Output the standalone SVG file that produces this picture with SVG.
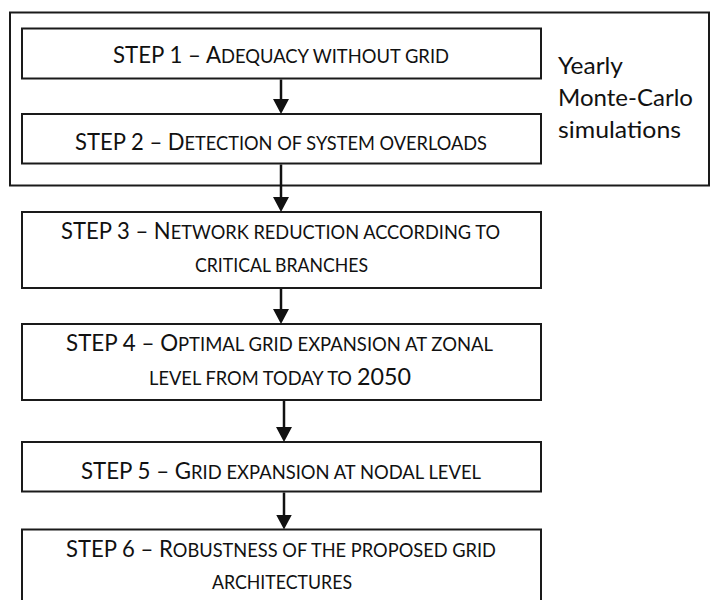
<svg xmlns="http://www.w3.org/2000/svg" width="710" height="600" viewBox="0 0 710 600">
<defs>
<style>
.box{fill:#fff;stroke:#1a1a1a;stroke-width:2}
.t{font-family:Lato,"Open Sans","Liberation Sans",sans-serif;font-size:23px;fill:#111}
.sc{font-size:19px}
.conn{stroke:#111;stroke-width:2.5;fill:none;marker-end:url(#ah)}
</style>
<marker id="ah" markerUnits="userSpaceOnUse" markerWidth="15" markerHeight="16" viewBox="0 0 15 16" refX="11" refY="8" orient="auto">
<path d="M0,0 L15,8 L0,16 Z" fill="#111"/>
</marker>
</defs>
<rect width="710" height="600" fill="#fff"/>
<g id="group-montecarlo">
<rect class="box" x="10" y="12.5" width="699" height="173"/>
<text class="t" x="558" y="74" textLength="65" lengthAdjust="spacingAndGlyphs">Yearly</text>
<text class="t" x="558" y="106" textLength="135" lengthAdjust="spacingAndGlyphs">Monte-Carlo</text>
<text class="t" x="558" y="138" textLength="123" lengthAdjust="spacingAndGlyphs">simulations</text>
</g>
<g id="step1">
<rect class="box" x="22" y="28.5" width="519" height="50"/>
<text class="t" x="113" y="63" textLength="336" lengthAdjust="spacingAndGlyphs">STEP 1 – A<tspan class="sc">DEQUACY WITHOUT GRID</tspan></text>
</g>
<g id="step2">
<rect class="box" x="22" y="114" width="519" height="49.5"/>
<text class="t" x="75" y="150" textLength="412" lengthAdjust="spacingAndGlyphs">STEP 2 – D<tspan class="sc">ETECTION OF SYSTEM OVERLOADS</tspan></text>
</g>
<g id="step3">
<rect class="box" x="22" y="212" width="519" height="76"/>
<text class="t" x="61" y="239" textLength="439" lengthAdjust="spacingAndGlyphs">STEP 3 – N<tspan class="sc">ETWORK REDUCTION ACCORDING TO</tspan></text>
<text class="t sc" x="195" y="272" textLength="173" lengthAdjust="spacingAndGlyphs">CRITICAL BRANCHES</text>
</g>
<g id="step4">
<rect class="box" x="22" y="324" width="519" height="76"/>
<text class="t" x="66" y="351" textLength="427" lengthAdjust="spacingAndGlyphs">STEP 4 – O<tspan class="sc">PTIMAL GRID EXPANSION AT ZONAL</tspan></text>
<text class="t sc" x="149" y="384.5" textLength="203" lengthAdjust="spacingAndGlyphs">LEVEL FROM TODAY TO</text>
<text class="t" x="357" y="384.5" textLength="54" lengthAdjust="spacingAndGlyphs">2050</text>
</g>
<g id="step5">
<rect class="box" x="22" y="442" width="519" height="49.5"/>
<text class="t" x="81" y="479" textLength="400" lengthAdjust="spacingAndGlyphs">STEP 5 – G<tspan class="sc">RID EXPANSION AT NODAL LEVEL</tspan></text>
</g>
<g id="step6">
<rect class="box" x="22" y="529.5" width="519" height="80"/>
<text class="t" x="66" y="557" textLength="430" lengthAdjust="spacingAndGlyphs">STEP 6 – R<tspan class="sc">OBUSTNESS OF THE PROPOSED GRID</tspan></text>
<text class="t sc" x="212" y="589" textLength="140" lengthAdjust="spacingAndGlyphs">ARCHITECTURES</text>
</g>
<g id="connectors">
<line class="conn" x1="281" y1="79.5" x2="281" y2="110"/>
<line class="conn" x1="281" y1="164.5" x2="281" y2="208"/>
<line class="conn" x1="281" y1="289" x2="281" y2="320"/>
<line class="conn" x1="284" y1="401" x2="284" y2="438"/>
<line class="conn" x1="284" y1="492.5" x2="284" y2="525.5"/>
</g>
</svg>
